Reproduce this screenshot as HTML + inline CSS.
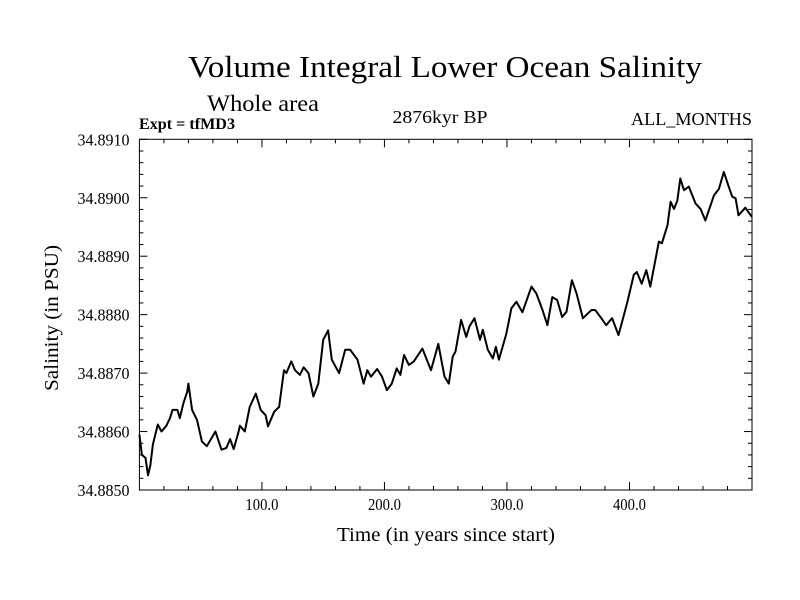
<!DOCTYPE html>
<html><head><meta charset="utf-8"><style>
body{margin:0;background:#fff}
svg{display:block;font-family:"Liberation Serif",serif}
</style></head><body>
<svg id="c" width="800" height="600" viewBox="0 0 800 600">
<text x="445" y="77" font-size="31" text-anchor="middle" textLength="514" lengthAdjust="spacingAndGlyphs">Volume Integral Lower Ocean Salinity</text>
<text x="207" y="111" font-size="23" textLength="112" lengthAdjust="spacingAndGlyphs">Whole area</text>
<text x="139" y="129" font-size="16" font-weight="bold" textLength="96" lengthAdjust="spacingAndGlyphs">Expt = tfMD3</text>
<text x="440" y="123" font-size="18" text-anchor="middle" textLength="95" lengthAdjust="spacingAndGlyphs">2876kyr BP</text>
<text x="752" y="125" font-size="18" text-anchor="end" textLength="121" lengthAdjust="spacingAndGlyphs">ALL_MONTHS</text>
<text x="446" y="541" font-size="20" text-anchor="middle" textLength="218" lengthAdjust="spacingAndGlyphs">Time (in years since start)</text>
<text x="0" y="0" font-size="20" text-anchor="middle" textLength="146" lengthAdjust="spacingAndGlyphs" transform="translate(58,318) rotate(-90)">Salinity (in PSU)</text>
<g id="ticks"></g>
<rect x="139.4" y="139.3" width="612.6" height="350.7" fill="none" stroke="#000" stroke-width="1"/>
<path id="line" fill="none" stroke="#000" stroke-width="2" stroke-linejoin="round"/>
</svg>
<script>
const years=[0,2,5,7,9,11,15,18,22,25,27,31,33,36,39,40,43,47,51,55,62,67,71,74,77,81,82,86,90,95,99,103,105,110,114,118,120,124,127,131,134,138,142,146,150,154,157,163,168,172,178,183,186,189,194,198,202,206,210,213,216,220,224,231,238,244,249,252.5,255.7,258,262.6,266.7,269.4,273.5,278,280.3,284.4,288.5,291,293.4,299.5,303.6,307.7,312.6,320,324,329,333,337,341,345,348.6,353,356.8,362,369,372,377,381,385.8,391,398,403.5,406,410,413.7,417,424,426.5,431,433.6,436.3,439,441.5,444.5,448.4,454,458,462,468.9,473,477,481,483.8,486.6,489,494.5,500];
const salinity=[34.88595,34.8856,34.88555,34.88525,34.88543,34.88578,34.88612,34.886,34.8861,34.88623,34.88637,34.88637,34.88623,34.88649,34.88668,34.88682,34.88637,34.8862,34.88583,34.88575,34.886,34.88569,34.88572,34.88587,34.8857,34.886,34.8861,34.886,34.88642,34.88665,34.88637,34.88628,34.88609,34.88634,34.88642,34.88705,34.887,34.8872,34.88705,34.88697,34.8871,34.887,34.8866,34.88682,34.88757,34.88773,34.88723,34.887,34.8874,34.8874,34.88723,34.88682,34.88705,34.88694,34.88707,34.88694,34.88671,34.88682,34.88708,34.88697,34.88731,34.88714,34.8872,34.88742,34.88705,34.8875,34.88694,34.88682,34.88728,34.88737,34.88791,34.88762,34.8878,34.88794,34.88757,34.88774,34.8874,34.88725,34.88745,34.88723,34.88767,34.88811,34.88822,34.88804,34.88848,34.88836,34.88808,34.88782,34.8883,34.88825,34.88796,34.88805,34.88859,34.88836,34.88794,34.88808,34.88808,34.88794,34.88782,34.88794,34.88765,34.88819,34.88868,34.88873,34.88853,34.88876,34.88848,34.88925,34.88922,34.88953,34.88993,34.88981,34.88995,34.89033,34.89013,34.89019,34.8899,34.88981,34.88961,34.89004,34.89015,34.89044,34.89019,34.89002,34.88999,34.8897,34.88983,34.88967];
const xTicks=[100,200,300,400];
const xTickLabels=["100.0","200.0","300.0","400.0"];
const yTicks=[34.885,34.886,34.887,34.888,34.889,34.89,34.891];
const yTickLabels=["34.8850","34.8860","34.8870","34.8880","34.8890","34.8900","34.8910"];
const X0=139.4,X1=752,Y0=490,Y1=139.3,xMin=0,xMax=500,yMin=34.885,yMax=34.891;
function sx(v){return X0+(v-xMin)/(xMax-xMin)*(X1-X0);}
function sy(v){return Y0-(v-yMin)/(yMax-yMin)*(Y0-Y1);}
const NS="http://www.w3.org/2000/svg";
const g=document.getElementById('ticks');
function ln(x1,y1,x2,y2,name){const l=document.createElementNS(NS,'line');l.setAttribute('x1',x1);l.setAttribute('y1',y1);l.setAttribute('x2',x2);l.setAttribute('y2',y2);l.setAttribute('stroke','#000');l.setAttribute('stroke-width','1');


g.appendChild(l);}
function tx(x,y,s,anchor,len,name){const t=document.createElementNS(NS,'text');t.setAttribute('x',x);t.setAttribute('y',y);t.setAttribute('font-size','17');t.setAttribute('text-anchor',anchor);t.setAttribute('textLength',len);t.setAttribute('lengthAdjust','spacingAndGlyphs');t.textContent=s;


g.appendChild(t);}
for(let v=xMin+20;v<xMax;v+=20){const x=sx(v);const major=v%100===0;const L=major?8:4;ln(x,Y0,x,Y0-L,'x-tick');ln(x,Y1,x,Y1+L,'x-tick-top');}
for(let i=0;i<=30;i++){const v=yMin+i*0.0002;const y=sy(v);const major=i%5===0;const L=major?8:4;ln(X0,y,X0+L,y,'y-tick');ln(X1,y,X1-L,y,'y-tick-right');}
xTicks.forEach((v,i)=>tx(sx(v),510,xTickLabels[i],'middle',33,'x-tick-label'));
yTicks.forEach((v,i)=>tx(129.5,sy(v)+6,yTickLabels[i],'end',52,'y-tick-label'));
document.getElementById('line').setAttribute('d',years.map((v,i)=>(i?'L':'M')+sx(v).toFixed(1)+','+sy(salinity[i]).toFixed(1)).join(''));
</script>
</body></html>
